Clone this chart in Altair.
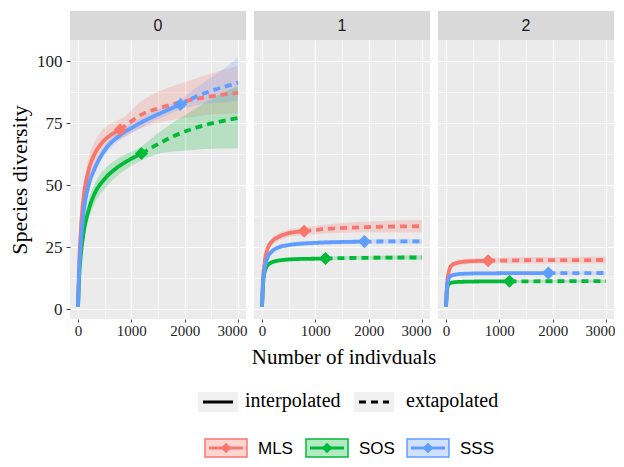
import altair as alt
import pandas as pd

SITES = ["MLS", "SOS", "SSS"]
COLORS = ["#F8766D", "#00BA38", "#619CFF"]
LIGHT = ["#FDD6D3", "#B3EAC3", "#D0E1FF"]
ORDERS = ["0", "1", "2"]
METHODS = ["interpolated", "extapolated"]

# sample sizes (m) along each curve; observed size is where interpolation ends
M_MLS = [1, 20, 50, 100, 200, 300, 450, 600, 790, 1200, 1600, 2000, 2500, 3000]
M_SOS = [1, 20, 50, 100, 200, 300, 500, 700, 950, 1190, 1500, 1800, 2100, 2400, 2700, 3000]
M_SSS = [1, 20, 50, 100, 200, 300, 500, 750, 1000, 1300, 1600, 1920, 2200, 2500, 2800, 3000]
N_OBS = [790, 1190, 1920]

# q = 0
Q0_MLS_EST = [1, 17, 31, 44, 56, 62, 67, 70, 72.3, 78.5, 81.5, 83.8, 85.8, 87.3]
Q0_MLS_LO = [1, 15, 28, 40, 51, 57, 62, 66, 68.5, 73, 75.5, 77, 78.5, 79]
Q0_MLS_HI = [1, 19, 34, 48, 61, 67, 72, 74.5, 76.5, 84, 88.5, 91.5, 95, 98]
Q0_SOS_EST = [1, 12, 21, 30, 40, 46, 52.5, 56.5, 60, 62.7, 66.5, 69.8, 72.3, 74.3, 75.8, 77]
Q0_SOS_LO = [1, 11, 19, 27, 36, 42, 48.5, 53, 57, 60, 62.5, 63.5, 64, 64.5, 64.7, 65]
Q0_SOS_HI = [1, 13, 23, 33, 44, 50, 56.5, 60, 63, 65.5, 71, 75.5, 79.5, 83.5, 87, 90]
Q0_SSS_EST = [1, 14, 26, 38, 50, 56, 64, 69.5, 73, 76.5, 79.5, 82.5, 85.5, 88, 90, 91.3]
Q0_SSS_LO = [1, 13, 24.5, 36, 48, 54, 62, 67.5, 71, 74.5, 77.5, 80.5, 82, 83, 83.5, 84]
Q0_SSS_HI = [1, 15, 27.5, 40, 52, 58, 66, 71.5, 75, 78.5, 81.5, 84.5, 89, 93.5, 98, 101.5]

# q = 1
Q1_MLS_EST = [1, 12, 19, 24, 27.5, 29, 30.3, 31, 31.4, 32.3, 32.8, 33.1, 33.3, 33.4]
Q1_MLS_LO = [1, 11.2, 17.8, 22.5, 26, 27.5, 28.8, 29.5, 29.9, 30.5, 30.8, 30.9, 30.9, 30.9]
Q1_MLS_HI = [1, 12.8, 20.2, 25.5, 29, 30.5, 31.8, 32.5, 32.9, 34.1, 34.8, 35.3, 35.7, 35.9]
Q1_SOS_EST = [1, 10, 15, 17.5, 19, 19.5, 20, 20.2, 20.3, 20.4, 20.55, 20.65, 20.7, 20.75, 20.8, 20.8]
Q1_SOS_LO = [1, 9.5, 14.4, 16.8, 18.3, 18.8, 19.3, 19.5, 19.6, 19.7, 19.8, 19.85, 19.9, 19.9, 19.9, 19.9]
Q1_SOS_HI = [1, 10.5, 15.6, 18.2, 19.7, 20.2, 20.7, 20.9, 21, 21.1, 21.3, 21.45, 21.5, 21.6, 21.7, 21.7]
Q1_SSS_EST = [1, 11, 16.5, 20.5, 23.5, 24.8, 25.8, 26.4, 26.7, 26.95, 27.1, 27.2, 27.25, 27.3, 27.3, 27.35]
Q1_SSS_LO = [1, 10.4, 15.7, 19.6, 22.6, 23.9, 24.9, 25.5, 25.8, 26.05, 26.2, 26.3, 26.3, 26.3, 26.3, 26.3]
Q1_SSS_HI = [1, 11.6, 17.3, 21.4, 24.4, 25.7, 26.7, 27.3, 27.6, 27.85, 28, 28.1, 28.2, 28.3, 28.3, 28.4]

# q = 2
Q2_MLS_EST = [1, 10, 14.8, 17.5, 18.6, 19, 19.3, 19.4, 19.5, 19.6, 19.7, 19.7, 19.75, 19.8]
Q2_MLS_LO = [1, 9.4, 14, 16.5, 17.5, 17.9, 18.2, 18.3, 18.4, 18.4, 18.4, 18.4, 18.4, 18.4]
Q2_MLS_HI = [1, 10.6, 15.6, 18.5, 19.7, 20.1, 20.4, 20.5, 20.6, 20.8, 21, 21, 21.1, 21.2]
Q2_SOS_EST = [1, 8, 10, 10.6, 10.9, 11, 11.1, 11.15, 11.2, 11.2, 11.2, 11.22, 11.23, 11.24, 11.25, 11.25]
Q2_SOS_LO = [1, 7.6, 9.5, 10.1, 10.35, 10.45, 10.55, 10.6, 10.65, 10.65, 10.65, 10.65, 10.65, 10.65, 10.65, 10.65]
Q2_SOS_HI = [1, 8.4, 10.5, 11.1, 11.45, 11.55, 11.65, 11.7, 11.75, 11.75, 11.75, 11.8, 11.8, 11.85, 11.85, 11.85]
Q2_SSS_EST = [1, 9, 12.3, 13.5, 14, 14.2, 14.35, 14.4, 14.45, 14.5, 14.5, 14.5, 14.5, 14.52, 14.53, 14.55]
Q2_SSS_LO = [1, 8.5, 11.7, 12.9, 13.35, 13.55, 13.7, 13.75, 13.8, 13.8, 13.8, 13.8, 13.8, 13.8, 13.8, 13.8]
Q2_SSS_HI = [1, 9.5, 12.9, 14.1, 14.65, 14.85, 15, 15.05, 15.1, 15.2, 15.2, 15.2, 15.25, 15.25, 15.3, 15.3]

M_BY_SITE = [M_MLS, M_SOS, M_SSS]
SERIES = {
    "0": [(Q0_MLS_EST, Q0_MLS_LO, Q0_MLS_HI), (Q0_SOS_EST, Q0_SOS_LO, Q0_SOS_HI), (Q0_SSS_EST, Q0_SSS_LO, Q0_SSS_HI)],
    "1": [(Q1_MLS_EST, Q1_MLS_LO, Q1_MLS_HI), (Q1_SOS_EST, Q1_SOS_LO, Q1_SOS_HI), (Q1_SSS_EST, Q1_SSS_LO, Q1_SSS_HI)],
    "2": [(Q2_MLS_EST, Q2_MLS_LO, Q2_MLS_HI), (Q2_SOS_EST, Q2_SOS_LO, Q2_SOS_HI), (Q2_SSS_EST, Q2_SSS_LO, Q2_SSS_HI)],
}

rows, pts = [], []
for q in ORDERS:
    for si, site in enumerate(SITES):
        est, lo, hi = SERIES[q][si]
        n = N_OBS[si]
        for mi, e, l, h in zip(M_BY_SITE[si], est, lo, hi):
            base = dict(q=q, site=site, m=mi, est=e, lo=l, hi=h)
            if mi <= n:
                rows.append({**base, "method": "interpolated"})
            if mi >= n:
                rows.append({**base, "method": "extapolated"})
            if mi == n:
                pts.append(base)
df = pd.DataFrame(rows)
dfp = pd.DataFrame(pts)

SERIF = "Liberation Serif"
SANS = "Liberation Sans"
W, H = 176, 279

color_scale = alt.Scale(domain=SITES, range=COLORS)
xsc = alt.Scale(domain=[-150, 3150], nice=False, zero=False)
ysc = alt.Scale(domain=[-4, 108.5], nice=False, zero=False)

def xaxis():
    return alt.Axis(
        values=[0, 500, 1000, 1500, 2000, 2500, 3000], format="d",
        labelExpr="datum.value % 1000 == 0 ? datum.label : ''",
        labelOffset={"condition": {"test": "datum.value == 3000", "value": -6}, "value": 0},
        grid=True, gridColor="white",
        gridWidth={"condition": {"test": "datum.value % 1000 != 0", "value": 0.6}, "value": 1.2},
        tickOpacity={"condition": {"test": "datum.value % 1000 != 0", "value": 0}, "value": 1},
        tickColor="#444", tickSize=3, domain=False, labelFont=SERIF, labelFontSize=15,
        labelColor="#222", labelPadding=1, title=None, labelFlush=False)

def yaxis(first):
    return alt.Axis(
        values=[0, 12.5, 25, 37.5, 50, 62.5, 75, 87.5, 100],
        labelExpr="datum.value % 25 == 0 ? datum.label : ''",
        grid=True, gridColor="white",
        gridWidth={"condition": {"test": "datum.value % 25 != 0", "value": 0.6}, "value": 1.2},
        tickOpacity={"condition": {"test": "datum.value % 25 != 0", "value": 0}, "value": 1},
        ticks=first, labels=first, tickColor="#444", tickSize=4, domain=False,
        labelFont=SERIF, labelFontSize=17, labelColor="#222", labelPadding=4,
        title="Species diversity" if first else None, titleFont=SERIF, titleFontSize=22,
        titleFontWeight="normal", titleColor="black", titlePadding=5)

def panel(qi):
    q = ORDERS[qi]
    d = df[df.q == q]
    dp = dfp[dfp.q == q]
    X = alt.X("m:Q", scale=xsc, axis=xaxis())
    Y = alt.Y("est:Q", scale=ysc, axis=yaxis(qi == 0))
    band = alt.Chart(d).mark_area(opacity=0.22, interpolate="monotone").encode(
        x=X, y=alt.Y("lo:Q", scale=ysc, axis=yaxis(qi == 0)), y2="hi:Q",
        fill=alt.Fill("site:N", scale=color_scale, legend=None), detail="site:N")
    line = alt.Chart(d).mark_line(strokeWidth=3.8, interpolate="monotone").encode(
        x=X, y=Y,
        color=alt.Color("site:N", scale=color_scale, legend=None),
        strokeDash=alt.StrokeDash("method:N", scale=alt.Scale(domain=METHODS, range=[[1, 0], [7, 5]]), legend=None))
    point = alt.Chart(dp).mark_point(shape="diamond", filled=True, size=170, opacity=1).encode(
        x=X, y=Y, color=alt.Color("site:N", scale=color_scale, legend=None))
    sdf = pd.DataFrame({"q": [q]})
    strip = alt.Chart(sdf).mark_rect(color="#D9D9D9").encode(
        x=alt.value(0), x2=alt.value(W), y=alt.value(-29), y2=alt.value(0))
    stxt = alt.Chart(sdf).mark_text(font=SANS, fontSize=16, color="#1A1A1A", baseline="middle").encode(
        x=alt.value(W / 2), y=alt.value(-14), text="q:N")
    layers = [band, line, point, strip, stxt]
    if qi == 1:
        layers += legend_layers()
    return alt.layer(*layers).properties(width=W, height=H)

def legend_layers():
    out = []
    tdf = pd.DataFrame({"t": ["Number of indivduals"]})
    out.append(alt.Chart(tdf).mark_text(font=SERIF, fontSize=21, color="black", baseline="middle").encode(
        x=alt.value(W / 2 + 2), y=alt.value(318), text="t:N"))
    # linetype legend
    lt_x = [-56, 100]
    lt_gap = [47, 52]
    for i, lab in enumerate(METHODS):
        ldf = pd.DataFrame({"label": [lab]})
        x0 = lt_x[i]
        out.append(alt.Chart(ldf).mark_rect(color="#F0F0F0").encode(
            x=alt.value(x0), x2=alt.value(x0 + 40), y=alt.value(352), y2=alt.value(372)))
        out.append(alt.Chart(ldf).mark_rule(color="black", strokeWidth=3,
                                            strokeDash=[1, 0] if i == 0 else [7, 5]).encode(
            x=alt.value(x0 + 5), x2=alt.value(x0 + 35), y=alt.value(362)))
        out.append(alt.Chart(ldf).mark_text(font=SERIF, fontSize=20, color="black", align="left",
                                            baseline="middle").encode(
            x=alt.value(x0 + lt_gap[i]), y=alt.value(361), text="label:N"))
    # site legend
    for i, site in enumerate(SITES):
        sdf = pd.DataFrame({"label": [site]})
        x0 = -49 + i * 101
        out.append(alt.Chart(sdf).mark_rect(fill=LIGHT[i], stroke=COLORS[i], strokeWidth=1.5).encode(
            x=alt.value(x0), x2=alt.value(x0 + 42), y=alt.value(399), y2=alt.value(417)))
        out.append(alt.Chart(sdf).mark_rule(color=COLORS[i], strokeWidth=3).encode(
            x=alt.value(x0 + 4), x2=alt.value(x0 + 38), y=alt.value(408)))
        out.append(alt.Chart(sdf).mark_point(shape="diamond", filled=True, size=110, opacity=1,
                                             color=COLORS[i]).encode(
            x=alt.value(x0 + 21), y=alt.value(408)))
        out.append(alt.Chart(sdf).mark_text(font=SANS, fontSize=17, color="black", align="left",
                                            baseline="middle").encode(
            x=alt.value(x0 + 53), y=alt.value(408.5), text="label:N"))
    return out

chart = alt.hconcat(panel(0), panel(1), panel(2), spacing=8, bounds="flush").properties(
    padding={"left": 0, "top": 3, "right": 0, "bottom": 0}
).configure_view(fill="#EBEBEB", stroke=None)

chart.save("out.html", embed_options={"renderer": "svg", "actions": False})
